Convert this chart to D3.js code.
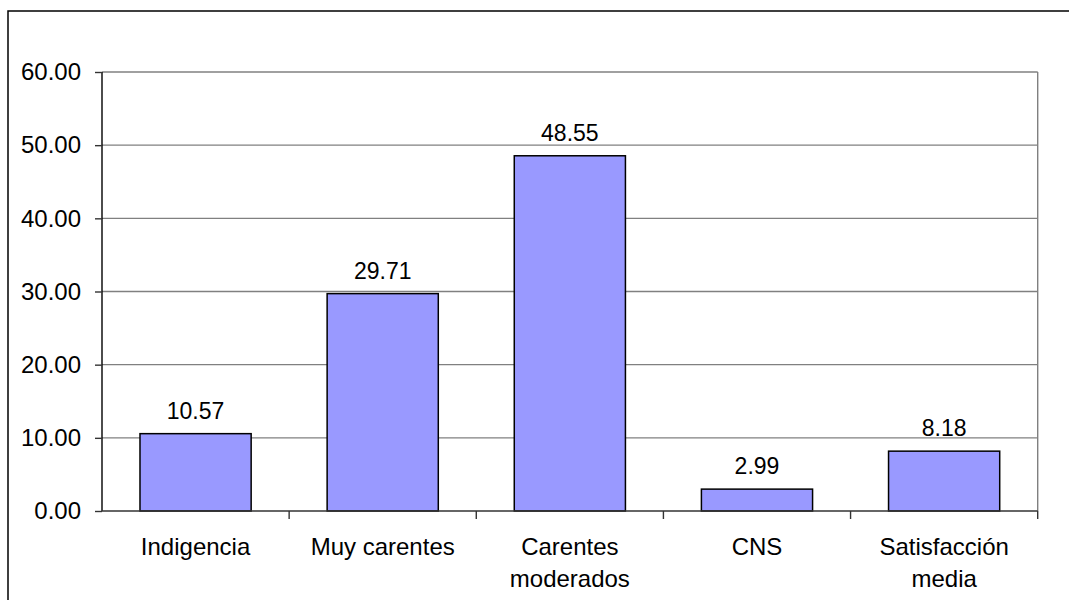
<!DOCTYPE html>
<html>
<head>
<meta charset="utf-8">
<script src="https://cdn.jsdelivr.net/npm/d3@7"></script>
<style>
  html, body { margin: 0; padding: 0; background: #fff; }
  svg { display: block; font-family: "Liberation Sans", Arial, sans-serif; }
</style>
</head>
<body>
<svg id="chart" width="1069" height="600"></svg>
<script>
// Categories (multi-line labels split on "\n") and their values
const categories = ["Indigencia", "Muy carentes", "Carentes\nmoderados", "CNS", "Satisfacción\nmedia"];
const values = [10.57, 29.71, 48.55, 2.99, 8.18];
const yTicks = [0, 10, 20, 30, 40, 50, 60];

const W = 1069, H = 600;
const plot = { left: 102, top: 72, right: 1037.7, bottom: 511 };

const svg = d3.select("#chart");

// Outer frame (runs off the right and bottom edges)
svg.append("rect")
  .attr("x", 8).attr("y", 11)
  .attr("width", W + 20).attr("height", H + 20)
  .attr("fill", "none").attr("stroke", "#000").attr("stroke-width", 1.5);

const x = d3.scaleBand()
  .domain(categories)
  .range([plot.left, plot.right])
  .paddingInner(0.406)
  .paddingOuter(0.203);

const xCell = d3.scaleBand()
  .domain(categories)
  .range([plot.left, plot.right])
  .padding(0);

const y = d3.scaleLinear()
  .domain([0, 60])
  .range([plot.bottom, plot.top]);

// Horizontal gridlines
svg.append("g")
  .selectAll("line")
  .data(yTicks.filter(d => d > 0))
  .join("line")
  .attr("x1", plot.left).attr("x2", plot.right)
  .attr("y1", d => y(d)).attr("y2", d => y(d))
  .attr("stroke", "#808080").attr("stroke-width", 1.4);

// Right edge of plot area
svg.append("line")
  .attr("x1", plot.right).attr("x2", plot.right)
  .attr("y1", plot.top).attr("y2", plot.bottom)
  .attr("stroke", "#808080").attr("stroke-width", 1.4);

// Bars
svg.append("g")
  .selectAll("rect")
  .data(categories)
  .join("rect")
  .attr("x", d => x(d))
  .attr("width", x.bandwidth())
  .attr("y", (d, i) => y(values[i]))
  .attr("height", (d, i) => y(0) - y(values[i]))
  .attr("fill", "#9999FF")
  .attr("stroke", "#000")
  .attr("stroke-width", 1.5);

// Value labels above the bars
svg.append("g")
  .selectAll("text")
  .data(categories)
  .join("text")
  .attr("x", d => x(d) + x.bandwidth() / 2)
  .attr("y", (d, i) => y(values[i]) - 15)
  .attr("text-anchor", "middle")
  .attr("font-size", 23)
  .attr("fill", "#000")
  .text((d, i) => values[i].toFixed(2));

// Y axis
const yAxis = d3.axisLeft(y)
  .tickValues(yTicks)
  .tickFormat(d3.format(".2f"))
  .tickSize(7)
  .tickPadding(14);

const gy = svg.append("g")
  .attr("transform", `translate(${plot.left},0)`)
  .call(yAxis);
gy.select(".domain").attr("stroke", "#000").attr("stroke-width", 1.4)
  .attr("d", `M0,${plot.top}V${plot.bottom}`);
gy.selectAll(".tick line").attr("stroke", "#333").attr("stroke-width", 1.4);
gy.selectAll(".tick text")
  .attr("font-size", 24)
  .attr("font-family", "'Liberation Sans', Arial, sans-serif")
  .attr("fill", "#000");

// X axis line and tick marks at category boundaries
svg.append("line")
  .attr("x1", plot.left).attr("x2", plot.right)
  .attr("y1", plot.bottom).attr("y2", plot.bottom)
  .attr("stroke", "#333").attr("stroke-width", 1.6);

svg.append("g")
  .selectAll("line")
  .data(categories)
  .join("line")
  .attr("x1", d => xCell(d) + xCell.bandwidth())
  .attr("x2", d => xCell(d) + xCell.bandwidth())
  .attr("y1", plot.bottom).attr("y2", plot.bottom + 8)
  .attr("stroke", "#333").attr("stroke-width", 1.4);

// Category labels
const cat = svg.append("g")
  .selectAll("text")
  .data(categories)
  .join("text")
  .attr("x", d => x(d) + x.bandwidth() / 2)
  .attr("y", 555)
  .attr("text-anchor", "middle")
  .attr("font-size", 24)
  .attr("fill", "#000");

cat.selectAll("tspan")
  .data(d => d.split("\n").map((t, i) => ({ t, i })))
  .join("tspan")
  .attr("x", function () { return d3.select(this.parentNode).attr("x"); })
  .attr("dy", d => d.i === 0 ? 0 : 32)
  .text(d => d.t);
</script>
</body>
</html>
